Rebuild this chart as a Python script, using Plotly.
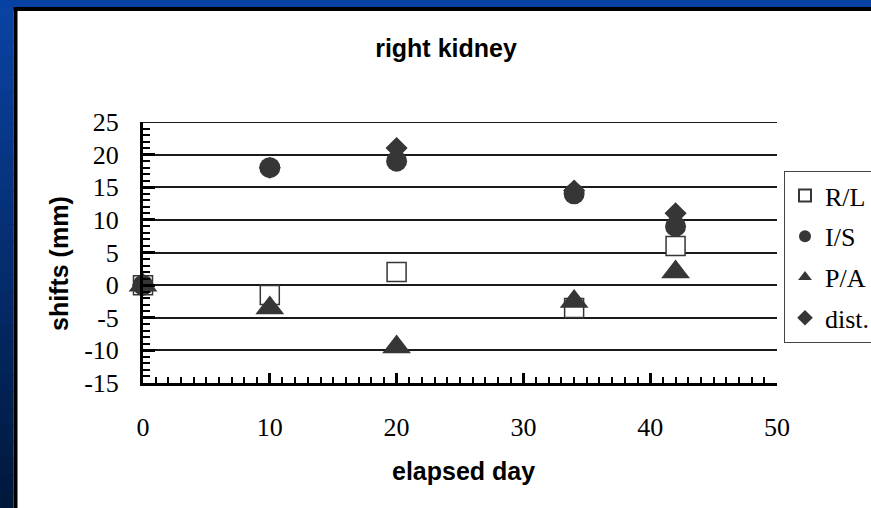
import plotly.graph_objects as go

# Elapsed treatment day for each measurement
days = [0, 10, 20, 34, 42]

# Kidney shifts (mm) along each direction and the total distance
shift_rl = [0, -1.5, 2, -3.5, 6]
shift_is = [0, 18, 19, 14, 9]
shift_pa = [0, -3.5, -9.5, -2.5, 2]
shift_dist = [0, 18, 21, 14.5, 11]

series_names = ["R/L", "I/S", "P/A", "dist."]

y_ticks = [-15, -10, -5, 0, 5, 10, 15, 20, 25]
y_tick_labels = ["-15", "-10", "-5", "0", "5", "10", "15", "20", "25"]
x_ticks = [0, 10, 20, 30, 40, 50]
x_tick_labels = ["0", "10", "20", "30", "40", "50"]

W, H = 871, 508
PL, PR, PT, PB = 143, 777, 122, 383  # plot area in pixels

MARK = "#363636"


def px_x(p):
    return (p - PL) / (PR - PL)


def px_y(p):
    return (PB - p) / (PB - PT)


fig = go.Figure()

common = dict(mode="markers", cliponaxis=False)
fig.add_trace(go.Scatter(
    x=days, y=shift_rl, name=series_names[0], legendgroup="a",
    marker=dict(symbol="square", size=19, color="white",
                line=dict(color=MARK, width=1.5)), **common,
))
fig.add_trace(go.Scatter(
    x=days, y=shift_is, name=series_names[1], legendgroup="b",
    marker=dict(symbol="circle", size=21, color=MARK, line=dict(width=0)),
    **common,
))
fig.add_trace(go.Scatter(
    x=days, y=shift_pa, name=series_names[2], legendgroup="c",
    marker=dict(symbol="triangle-up", size=25, color=MARK, line=dict(width=0)),
    **common,
))
fig.add_trace(go.Scatter(
    x=days, y=shift_dist, name=series_names[3], legendgroup="d",
    marker=dict(symbol="diamond", size=17, color=MARK, line=dict(width=0)),
    **common,
))

# Frame: blue slide background with a black edge around the white panel
shapes = []
top_blue = "#0641a3"
shapes.append(dict(type="rect", xref="paper", yref="paper", layer="below",
                   x0=px_x(0), x1=px_x(W), y0=px_y(0), y1=px_y(7),
                   fillcolor=top_blue, line=dict(width=0)))
bands = 30
c0 = (10, 66, 162)
c1 = (0, 24, 60)
for i in range(bands):
    t = i / (bands - 1)
    col = tuple(round(c0[k] + (c1[k] - c0[k]) * t) for k in range(3))
    y0 = 7 + (H - 7) * i / bands
    y1 = 7 + (H - 7) * (i + 1) / bands
    shapes.append(dict(type="rect", xref="paper", yref="paper", layer="below",
                       x0=px_x(0), x1=px_x(13.5), y0=px_y(y0), y1=px_y(y1 + 1),
                       fillcolor="rgb(%d,%d,%d)" % col, line=dict(width=0)))
shapes.append(dict(type="rect", xref="paper", yref="paper", layer="below",
                   x0=px_x(13.5), x1=px_x(W), y0=px_y(7), y1=px_y(11),
                   fillcolor="black", line=dict(width=0)))
shapes.append(dict(type="rect", xref="paper", yref="paper", layer="below",
                   x0=px_x(13.5), x1=px_x(17.5), y0=px_y(7), y1=px_y(H),
                   fillcolor="black", line=dict(width=0)))
# gridline along the top of the value range
shapes.append(dict(type="line", xref="paper", yref="y", layer="below",
                   x0=0, x1=1, y0=y_ticks[-1], y1=y_ticks[-1],
                   line=dict(color="#1a1a1a", width=2)))

bold = dict(family="Liberation Sans, Arial, sans-serif", size=25,
            color="black", weight="bold")
serif = dict(family="Liberation Serif, Times New Roman, serif", size=26,
             color="black")

annotations = [
    dict(text="shifts (mm)", textangle=-90, xref="paper", yref="paper",
         x=px_x(59), y=px_y(264), xanchor="center", yanchor="middle",
         showarrow=False, font=bold),
    dict(text="elapsed day", xref="paper", yref="paper",
         x=px_x(463), y=px_y(471), xanchor="center", yanchor="middle",
         showarrow=False, font=bold),
]

fig.update_layout(
    width=W, height=H,
    margin=dict(l=PL, r=W - PR, t=PT, b=H - PB, pad=0, autoexpand=False),
    paper_bgcolor="white", plot_bgcolor="white",
    title=dict(text="right kidney", xref="paper", x=px_x(446),
               yref="container", y=1 - 48 / H, xanchor="center",
               yanchor="middle", font=bold),
    shapes=shapes,
    annotations=annotations,
    showlegend=True,
    legend=dict(x=px_x(784), y=px_y(171), xanchor="left", yanchor="top",
                font=serif, bgcolor="white", bordercolor="#444444",
                borderwidth=1, tracegroupgap=4, itemwidth=30,
                itemsizing="constant"),
    xaxis=dict(range=[0, 50], tickvals=x_ticks, ticktext=x_tick_labels,
               showgrid=False, zeroline=False,
               showline=True, linecolor="black", linewidth=3,
               ticks="inside", ticklen=10, tickwidth=2.5, tickcolor="black",
               minor=dict(dtick=1, ticks="inside", ticklen=6, tickwidth=2,
                          tickcolor="black", showgrid=False),
               tickfont=serif, ticklabelstandoff=19),
    yaxis=dict(range=[-15, 25], tickvals=y_ticks, ticktext=y_tick_labels,
               showgrid=True, gridcolor="#1a1a1a", gridwidth=2, zeroline=False,
               showline=True, linecolor="black", linewidth=3,
               ticks="inside", ticklen=12, tickwidth=2.5, tickcolor="black",
               minor=dict(dtick=1, ticks="inside", ticklen=7, tickwidth=2,
                          tickcolor="black", showgrid=False),
               tickfont=serif, ticklabelstandoff=16),
)

fig.write_html("out.html")
